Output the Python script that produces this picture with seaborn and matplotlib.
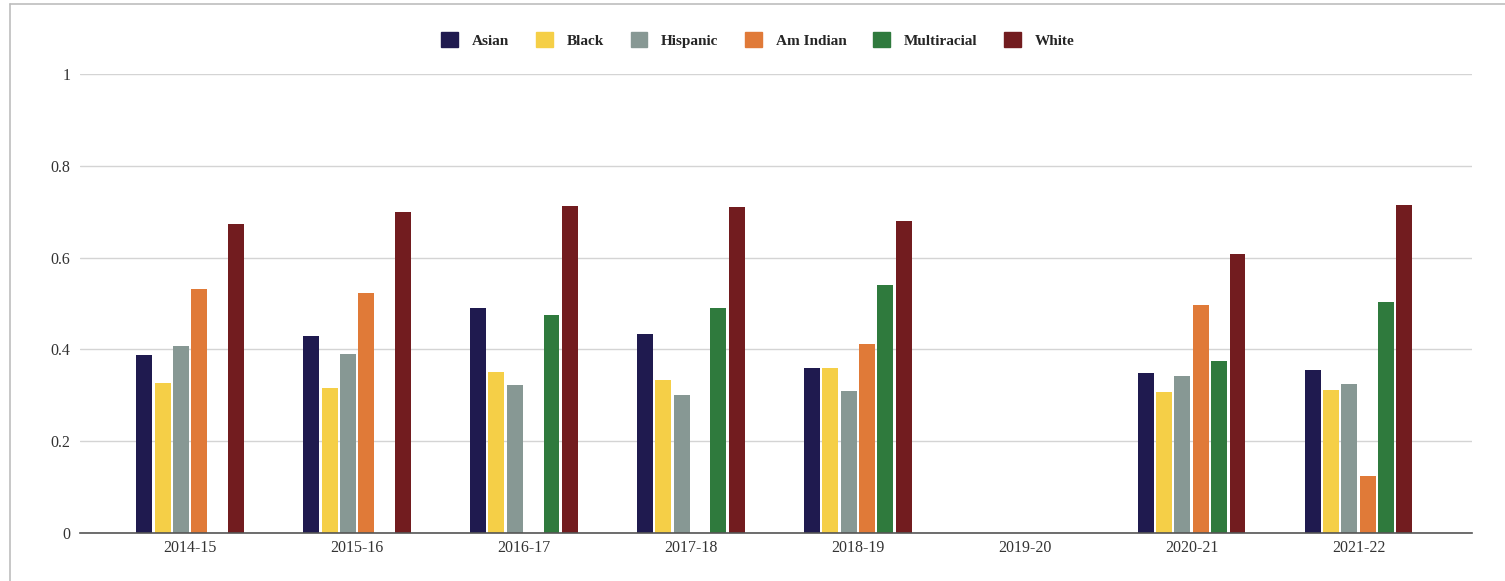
import numpy as np
import pandas as pd
import matplotlib
matplotlib.use("Agg")
import matplotlib.pyplot as plt
import seaborn as sns
from matplotlib.lines import Line2D
from matplotlib.patches import Patch

years = ["2014-15", "2015-16", "2016-17", "2017-18", "2018-19", "2019-20", "2020-21", "2021-22"]
groups = ["Asian", "Black", "Hispanic", "Am Indian", "Multiracial", "White"]
nan = np.nan
asian = [0.388, 0.429, 0.490, 0.434, 0.359, nan, 0.349, 0.355]
black = [0.327, 0.316, 0.351, 0.333, 0.359, nan, 0.308, 0.311]
hispanic = [0.407, 0.390, 0.322, 0.301, 0.309, nan, 0.342, 0.325]
am_indian = [0.532, 0.523, nan, nan, 0.412, nan, 0.497, 0.125]
multiracial = [nan, nan, 0.475, 0.490, 0.540, nan, 0.375, 0.503]
white = [0.673, 0.699, 0.712, 0.710, 0.680, nan, 0.608, 0.714]
colors = ["#1f1a4f", "#f5cf47", "#879894", "#e07a38", "#2f7a3d", "#721c1f"]

series = [asian, black, hispanic, am_indian, multiracial, white]
rows = []
for g, vals in zip(groups, series):
    for y, v in zip(years, vals):
        rows.append({"Year": y, "Group": g, "Value": v})
df = pd.DataFrame(rows)

sns.set_theme(style="white")
plt.rcParams["font.family"] = ["Liberation Serif", "DejaVu Serif"]

fig = plt.figure(figsize=(15.05, 5.81), dpi=100)
ax = fig.add_axes([80 / 1505, 1 - 533 / 581, (1472 - 80) / 1505, (533 - 74) / 581])

sns.barplot(data=df, x="Year", y="Value", hue="Group", hue_order=groups,
            order=years, palette=colors, width=0.66, gap=0.13,
            saturation=1, legend=False, ax=ax, linewidth=0)

ax.set_ylim(0, 1)
ax.set_xlim(-0.66, 7.68)
ax.set_yticks([0, 0.2, 0.4, 0.6, 0.8, 1.0])
ax.set_yticklabels(["0", "0.2", "0.4", "0.6", "0.8", "1"])
ax.yaxis.grid(True, color="#d4d4d4", linewidth=1)
ax.set_axisbelow(True)
for s in ["top", "right", "left"]:
    ax.spines[s].set_visible(False)
ax.spines["bottom"].set_color("#555555")
ax.spines["bottom"].set_linewidth(1.2)
ax.tick_params(axis="both", length=0, labelsize=11.5, colors="#333333")
ax.tick_params(axis="y", pad=7)
ax.tick_params(axis="x", pad=5)
ax.set_xlabel("")
ax.set_ylabel("")

handles = [Patch(facecolor=c, edgecolor=c, label=g) for g, c in zip(groups, colors)]
fig.legend(handles=handles, loc="center", bbox_to_anchor=(758 / 1505, 1 - 40 / 581),
           ncol=6, frameon=False, prop={"weight": "bold", "size": 11},
           handlelength=1.1, handleheight=1.1, columnspacing=1.75, handletextpad=0.9)

# screenshot frame lines
fig.add_artist(Line2D([10 / 1505, 10 / 1505], [0, 1 - 4 / 581], color="#bdbdbd", lw=1.2))
fig.add_artist(Line2D([10 / 1505, 1], [1 - 4 / 581, 1 - 4 / 581], color="#bdbdbd", lw=1.2))

fig.savefig("out.png", dpi=100)
